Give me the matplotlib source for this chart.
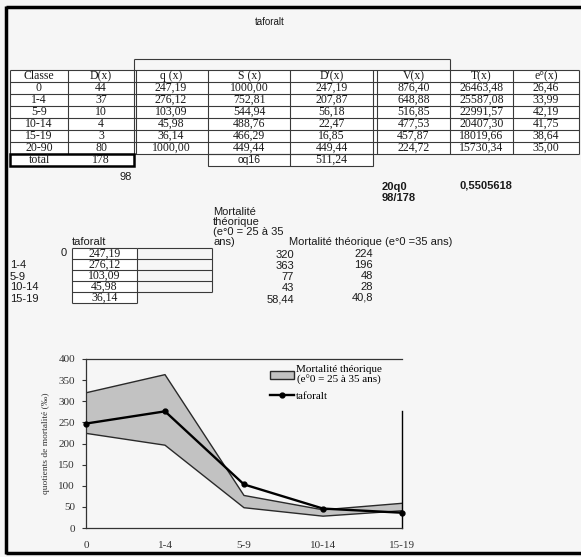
import matplotlib
matplotlib.use('Agg')
import matplotlib.pyplot as plt
from matplotlib.patches import Rectangle, Patch
from matplotlib.lines import Line2D

# ---------------- data ----------------
classes = ['0', '1-4', '5-9', '10-14', '15-19', '20-90']
deaths = [44, 37, 10, 4, 3, 80]
total_deaths = 178
under_total = 98
qx = [247.19, 276.12, 103.09, 45.98, 36.14, 1000.00]
sx = [1000.00, 752.81, 544.94, 488.76, 466.29, 449.44]
dpx = [247.19, 207.87, 56.18, 22.47, 16.85, 449.44]
dp_sum = 511.24
vx = [876.40, 648.88, 516.85, 477.53, 457.87, 224.72]
tx = [26463.48, 25587.08, 22991.57, 20407.30, 18019.66, 15730.34]
ex = [26.46, 33.99, 42.19, 41.75, 38.64, 35.00]
headers = ['Classe', 'D(x)', 'q (x)', 'S (x)', "D'(x)", 'V(x)', 'T(x)', 'e°(x)']

q20_name = '20q0'
q20_ratio = '98/178'
q20_value = '0,5505618'

age_groups = ['0', '1-4', '5-9', '10-14', '15-19']
q_taforalt = [247.19, 276.12, 103.09, 45.98, 36.14]
theo_25_35 = [320, 363, 77, 43, 58.44]
theo_35 = [224, 196, 48, 28, 40.8]

SERIF = ['Liberation Serif', 'DejaVu Serif']
SANS = ['Liberation Sans', 'DejaVu Sans']
TS = 8.5   # table serif size
SS = 8.0   # sans size


def fmt(v):
    return f"{v:.2f}".replace('.', ',')


W, H = 581, 557
fig = plt.figure(figsize=(W / 100, H / 100), dpi=100, facecolor='#f6f6f6')
bg = fig.add_axes([0, 0, 1, 1])
bg.set_xlim(0, W)
bg.set_ylim(H, 0)
bg.axis('off')

LC = '#3a3a3a'


def hline(y, x0, x1, lw=0.8, c=LC):
    bg.plot([x0, x1], [y, y], color=c, lw=lw, solid_capstyle='butt')


def vline(x, y0, y1, lw=0.8, c=LC):
    bg.plot([x, x], [y0, y1], color=c, lw=lw, solid_capstyle='butt')


def txt(x, y, s, ha='center', size=TS, fam=SERIF, **kw):
    bg.text(x, y, s, ha=ha, va='center', fontsize=size, family=fam, color='#1a1a1a', **kw)


# outer frame
hline(7, 6, W, lw=2.5, c='black')
hline(553, 6, W, lw=2.5, c='black')
vline(6, 6, 554, lw=2.5, c='black')

txt(270, 22, 'taforalt', size=7, fam=SANS)

# ---------------- main table ----------------
cols = [10, 68, 134, 208, 290, 373, 450, 513, 579]
top = 70
rh = 12
nrows = 7  # header + 6
bottom = top + nrows * rh
bg.add_patch(Rectangle((10, top), 569, nrows * rh, facecolor='white', edgecolor='none', zorder=0))
for i in range(nrows + 1):
    hline(top + i * rh, cols[0], cols[-1])
for x in cols:
    vline(x, top, bottom)
vline(136, top, bottom)
vline(377, top, bottom)
# merged box above
hline(59, 134, 450)
vline(134, 59, top)
vline(450, 59, top)

centers = [(cols[i] + cols[i + 1]) / 2 for i in range(len(cols) - 1)]
centers[5] = (377 + 450) / 2
for j, h in enumerate(headers):
    txt(centers[j], top + rh / 2, h)
columns = [classes, [str(d) for d in deaths], [fmt(v) for v in qx], [fmt(v) for v in sx],
           [fmt(v) for v in dpx], [fmt(v) for v in vx], [fmt(v) for v in tx], [fmt(v) for v in ex]]
for j, col in enumerate(columns):
    for i, s in enumerate(col):
        txt(centers[j], top + rh * (i + 1.5), s)

# extra row
y0, y1 = bottom, bottom + rh
bg.add_patch(Rectangle((10, y0), 124, rh, facecolor='white', edgecolor='black', lw=1.8, zorder=3))
vline(68, y0, y1, lw=1.8, c='black')
txt(centers[0], y0 + rh / 2, 'total')
txt(centers[1], y0 + rh / 2, str(total_deaths))
bg.add_patch(Rectangle((208, y0), 165, rh, facecolor='white', edgecolor=LC, lw=0.8, zorder=1))
vline(290, y0, y1)
txt(centers[3], y0 + rh / 2, 'oq16', size=7.5, fam=SANS)
txt(centers[4], y0 + rh / 2, fmt(dp_sum))
txt(132, 177, str(under_total), ha='right', size=SS, fam=SANS)

# ---------------- 20q0 ----------------
txt(382, 187, q20_name, ha='left', size=SS, fam=SANS, weight='bold')
txt(382, 198, q20_ratio, ha='left', size=SS, fam=SANS, weight='bold')
txt(460, 186, q20_value, ha='left', size=SS, fam=SANS, weight='bold')

# ---------------- theoretical mortality ----------------
for k, line in enumerate(['Mortalité', 'théorique', '(e°0 = 25 à 35', 'ans)']):
    txt(213, 212 + k * 10, line, ha='left', size=SS, fam=SANS)
txt(289, 242, 'Mortalité théorique (e°0 =35 ans)', ha='left', size=SS, fam=SANS)
rows_y = [254, 265, 276, 287, 298]
for k in range(5):
    s1 = (f"{theo_25_35[k]:g}").replace('.', ',')
    s2 = (f"{theo_35[k]:g}").replace('.', ',')
    txt(294, rows_y[k] + 1, s1, ha='right', size=SS, fam=SANS)
    txt(373, rows_y[k], s2, ha='right', size=SS, fam=SANS)

# small taforalt table
txt(72, 242, 'taforalt', ha='left', size=SS, fam=SANS)
st_top = 248
srh = 11
bg.add_patch(Rectangle((72, st_top), 65, 5 * srh, facecolor='white', edgecolor='none', zorder=0))
for i in range(6):
    hline(st_top + i * srh, 72, 137)
for i in range(5):
    hline(st_top + i * srh, 137, 212)
vline(72, st_top, st_top + 5 * srh)
vline(137, st_top, st_top + 5 * srh)
vline(212, st_top, st_top + 4 * srh)
for k in range(5):
    txt(104.5, st_top + srh * (k + 0.5), fmt(q_taforalt[k]))
txt(67, st_top + srh * 0.5, age_groups[0], ha='right', size=SS, fam=SANS)
for k in range(1, 5):
    txt(10, st_top + srh * (k + 0.5) + 1, age_groups[k], ha='left', size=SS, fam=SANS)

# ---------------- chart ----------------
left, right = 86, 402
ytop, ybot = 359, 528
ax = fig.add_axes([left / W, 1 - ybot / H, (right - left) / W, (ybot - ytop) / H])
ax.set_facecolor('none')
x = list(range(len(age_groups)))
ax.fill_between(x, theo_35, theo_25_35, facecolor='#c2c2c2', edgecolor='none', zorder=1)
ax.plot(x, theo_25_35, color='#2a2a2a', lw=1.0, zorder=2)
ax.plot(x, theo_35, color='#2a2a2a', lw=1.0, zorder=2)
ax.plot(x, q_taforalt, color='black', lw=1.7, marker='o', ms=3.5, zorder=3, clip_on=False)
ax.set_xlim(0, 4)
ax.set_ylim(0, 400)
ax.set_yticks(range(0, 401, 50))
ax.set_xticks(x)
ax.set_xticklabels(age_groups)
for sp in ['left', 'bottom', 'top']:
    ax.spines[sp].set_linewidth(0.9)
    ax.spines[sp].set_color('#333333')
ax.spines['right'].set_visible(False)
ax.axvline(4, ymin=0, ymax=0.69, color='black', lw=1.0, clip_on=False)
ax.tick_params(axis='y', length=3, width=0.8, pad=5, labelsize=8, colors='#333333')
ax.tick_params(axis='x', length=0, pad=9, labelsize=8, colors='#333333')
for lab in ax.get_xticklabels() + ax.get_yticklabels():
    lab.set_family(SERIF)
ax.set_ylabel('quotients de mortalité (‰)', family=SERIF, fontsize=6.8, labelpad=6, color='#333333')

handles = [Patch(facecolor='#c2c2c2', edgecolor='#2a2a2a', lw=1.0),
           Line2D([0], [0], color='black', lw=1.7, marker='o', ms=3.5)]
leg = ax.legend(handles, ['Mortalité théorique\n(e°0 = 25 à 35 ans)', 'taforalt'],
                loc='upper left', bbox_to_anchor=((264 - left) / (right - left), 0.995),
                frameon=False, prop={'family': SERIF, 'size': 8},
                handlelength=2.2, handletextpad=0.2, borderaxespad=0.1, labelspacing=0.5)
leg.get_texts()[0].set_multialignment('center')
leg.get_texts()[0].set_linespacing(1.1)

fig.text(245 / W, 1 - 561 / H, "Classes d'âge", ha='center', va='center', fontsize=8,
         family=SERIF, color='#333333')

fig.savefig('out.png', dpi=100, facecolor=fig.get_facecolor())
